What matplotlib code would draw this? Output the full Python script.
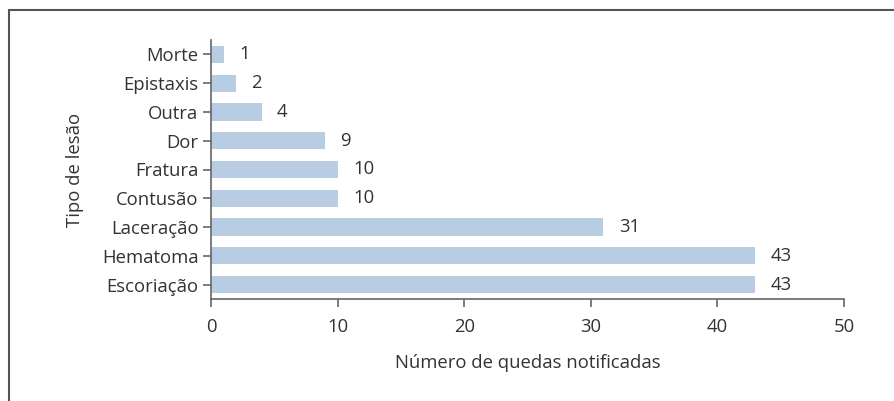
import matplotlib.pyplot as plt
from matplotlib.patches import Rectangle

# data
categorias = ['Escoriação', 'Hematoma', 'Laceração', 'Contusão', 'Fratura',
              'Dor', 'Outra', 'Epistaxis', 'Morte']
quedas = [43, 43, 31, 10, 10, 9, 4, 2, 1]

plt.rcParams['font.family'] = ['Open Sans', 'DejaVu Sans']
txt = '#333333'
spine_c = '#666666'
fs = 13.3

fig = plt.figure(figsize=(8.95, 4.01), dpi=100)
ax = fig.add_axes([211/895, 1 - 299/401, (844 - 211)/895, (299 - 40)/401])

ax.barh(range(len(categorias)), quedas, height=0.6, color='#b8cce4')
for i, v in enumerate(quedas):
    ax.annotate(str(v), (v, i), xytext=(11, 0), textcoords='offset points',
                va='center', ha='left', fontsize=fs, color=txt)

ax.set_xlim(0, 50)
ax.set_ylim(-0.5, 8.5)
ax.set_yticks(range(len(categorias)))
ax.set_yticklabels(categorias)
ax.set_xticks([0, 10, 20, 30, 40, 50])
ax.tick_params(axis='both', labelsize=fs, colors=spine_c, labelcolor=txt,
               length=6, width=1.2)
ax.tick_params(axis='x', pad=8)
ax.tick_params(axis='y', pad=3)
for s in ['top', 'right']:
    ax.spines[s].set_visible(False)
for s in ['left', 'bottom']:
    ax.spines[s].set_color(spine_c)
    ax.spines[s].set_linewidth(1.2)

ax.set_xlabel('Número de quedas notificadas', fontsize=fs, color=txt, labelpad=13)
ax.set_ylabel('Tipo de lesão', fontsize=fs, color=txt, labelpad=13)

# outer frame, cropped at right and bottom
fig.patches.append(Rectangle((9.5/895, -0.2), 1.2, 1.2 - 9.5/401,
                             transform=fig.transFigure, fill=False,
                             edgecolor='#555555', linewidth=1.5))

fig.savefig('out.png', dpi=100)
